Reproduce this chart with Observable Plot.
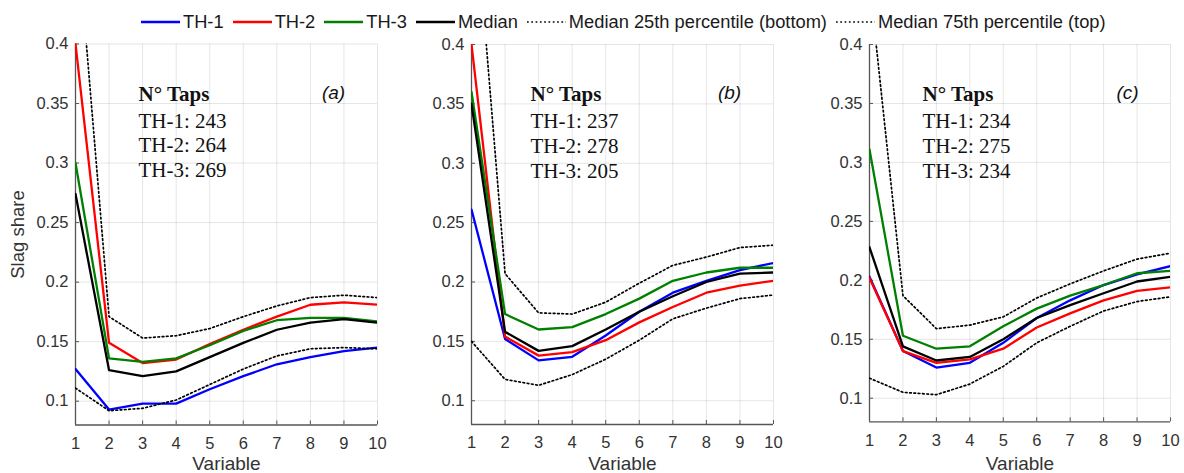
<!DOCTYPE html>
<html>
<head>
<meta charset="utf-8">
<script src="https://cdn.jsdelivr.net/npm/d3@7"></script>
<script src="https://cdn.jsdelivr.net/npm/@observablehq/plot@0.6"></script>
<style>
  html, body { margin: 0; padding: 0; background: #fff; }
  #wrap { position: relative; width: 1184px; height: 473px; overflow: hidden; font-family: "Liberation Sans", Arial, sans-serif; }
  .panel { position: absolute; top: 0; }
  #legend { position: absolute; left: 141px; top: 11px; display: flex; align-items: center; font-size: 18.3px; color: #1a1a1a; white-space: nowrap; }
  .item { display: flex; align-items: center; margin-right: 9px; }
  .item svg { margin-right: 3px; }
</style>
</head>
<body>
<div id="wrap">
  <div id="legend"></div>
</div>
<script>
// ---- data ----
const variables = [1, 2, 3, 4, 5, 6, 7, 8, 9, 10];
const xTicks = [1, 2, 3, 4, 5, 6, 7, 8, 9, 10];
const yTicks = [0.1, 0.15, 0.2, 0.25, 0.3, 0.35, 0.4];
const panelLabels = ["(a)", "(b)", "(c)"];
const seriesNames = ["TH-1", "TH-2", "TH-3", "Median", "Median 25th percentile (bottom)", "Median 75th percentile (top)"];

// panel (a)
const th1A = [0.127, 0.093, 0.098, 0.098, 0.110, 0.121, 0.131, 0.137, 0.142, 0.145];
const th2A = [0.400, 0.149, 0.132, 0.135, 0.148, 0.160, 0.171, 0.181, 0.183, 0.181];
const th3A = [0.300, 0.136, 0.133, 0.136, 0.147, 0.159, 0.168, 0.170, 0.170, 0.167];
const medA = [0.274, 0.126, 0.121, 0.125, 0.137, 0.149, 0.160, 0.166, 0.169, 0.166];
const p25A = [0.111, 0.092, 0.094, 0.101, 0.114, 0.127, 0.138, 0.144, 0.145, 0.144];
const p75A = [0.510, 0.171, 0.153, 0.155, 0.161, 0.171, 0.180, 0.187, 0.189, 0.187];

// panel (b)
const th1B = [0.261, 0.152, 0.134, 0.137, 0.155, 0.175, 0.191, 0.201, 0.210, 0.216];
const th2B = [0.400, 0.154, 0.138, 0.141, 0.151, 0.166, 0.179, 0.191, 0.197, 0.201];
const th3B = [0.360, 0.173, 0.160, 0.162, 0.173, 0.186, 0.201, 0.208, 0.212, 0.212];
const medB = [0.350, 0.158, 0.142, 0.146, 0.160, 0.175, 0.188, 0.200, 0.207, 0.208];
const p25B = [0.150, 0.118, 0.113, 0.122, 0.135, 0.151, 0.169, 0.178, 0.186, 0.189];
const p75B = [0.552, 0.207, 0.174, 0.173, 0.183, 0.199, 0.214, 0.221, 0.229, 0.231];

// panel (c)
const th1C = [0.203, 0.140, 0.126, 0.130, 0.147, 0.168, 0.183, 0.196, 0.205, 0.212];
const th2C = [0.202, 0.140, 0.130, 0.133, 0.142, 0.160, 0.172, 0.183, 0.191, 0.194];
const th3C = [0.311, 0.153, 0.142, 0.144, 0.161, 0.176, 0.187, 0.196, 0.206, 0.208];
const medC = [0.228, 0.144, 0.132, 0.135, 0.150, 0.168, 0.179, 0.189, 0.199, 0.203];
const p25C = [0.117, 0.105, 0.103, 0.112, 0.127, 0.147, 0.161, 0.174, 0.182, 0.186];
const p75C = [0.453, 0.187, 0.159, 0.162, 0.169, 0.185, 0.197, 0.208, 0.218, 0.223];

// number of taps
const tapsTH1 = [243, 237, 234];
const tapsTH2 = [264, 278, 275];
const tapsTH3 = [269, 205, 234];

const panelData = [
  [th1A, th2A, th3A, medA, p25A, p75A],
  [th1B, th2B, th3B, medB, p25B, p75B],
  [th1C, th2C, th3C, medC, p25C, p75C]
];

// ---- styles ----
const seriesStyle = [
  {color: "#0000ff", width: 2.3, dash: null},
  {color: "#ff0000", width: 2.3, dash: null},
  {color: "#008000", width: 2.3, dash: null},
  {color: "#000000", width: 2.3, dash: null},
  {color: "#000000", width: 1.7, dash: "1.7,2.6"},
  {color: "#000000", width: 1.7, dash: "1.7,2.6"}
];

const layout = [
  {left: 0,   width: 395, ml: 75, mr: 18, mt: 43.5, mb: 48.5, tapsDx: 63, ylabel: true},
  {left: 395, width: 395, ml: 76, mr: 17, mt: 44,   mb: 49,   tapsDx: 59, ylabel: false},
  {left: 790, width: 394, ml: 79, mr: 14, mt: 44,   mb: 51.7, tapsDx: 53, ylabel: false}
];

const sans = "'Liberation Sans', Arial, sans-serif";
const serif = "'Liberation Serif', 'Times New Roman', serif";
const H = 473;

const wrap = document.getElementById("wrap");

panelData.forEach((series, p) => {
  const L = layout[p];
  const frameBottom = H - L.mb;
  const marks = [
    Plot.gridX(xTicks, {stroke: "#000", strokeOpacity: 0.1, strokeWidth: 1}),
    Plot.gridY(yTicks, {stroke: "#000", strokeOpacity: 0.1, strokeWidth: 1}),
    Plot.axisX(xTicks, {anchor: "bottom", tickSize: -4, tickPadding: 16, label: null, fontSize: 16.5, stroke: "#555", fill: "#333", tickFormat: d => String(d)}),
    Plot.axisY(yTicks, {anchor: "left", tickSize: -4, tickPadding: 11, label: null, fontSize: 16.5, stroke: "#555", fill: "#333", tickFormat: d => String(d)}),
    Plot.ruleX([1], {stroke: "#555", strokeWidth: 1.3}),
    Plot.ruleY([0.08], {stroke: "#555", strokeWidth: 1.3})
  ];
  series.forEach((vals, s) => {
    const st = seriesStyle[s];
    const rows = variables.map((x, j) => ({x, y: vals[j]}));
    marks.push(Plot.line(rows, {
      x: "x", y: "y", stroke: st.color, strokeWidth: st.width,
      strokeDasharray: st.dash, clip: true, curve: "linear"
    }));
  });
  // annotations
  marks.push(Plot.text(["N\u00B0 Taps"], {
    frameAnchor: "top-left", dx: L.tapsDx, dy: 56.5, lineAnchor: "bottom", textAnchor: "start",
    fontFamily: serif, fontWeight: "bold", fontSize: 21, fill: "#111"
  }));
  marks.push(Plot.text([`TH-1: ${tapsTH1[p]}\nTH-2: ${tapsTH2[p]}\nTH-3: ${tapsTH3[p]}`], {
    frameAnchor: "top-left", dx: L.tapsDx, dy: 81 - 0.71 * 21, lineAnchor: "top", textAnchor: "start",
    lineHeight: 1.18, fontFamily: serif, fontSize: 21, fill: "#111"
  }));
  marks.push(Plot.text([panelLabels[p]], {
    frameAnchor: "top-left", dx: 258, dy: 54.5, lineAnchor: "bottom", textAnchor: "middle",
    fontFamily: sans, fontStyle: "italic", fontSize: 19, fill: "#111"
  }));
  marks.push(Plot.text(["Variable"], {
    frameAnchor: "bottom", dy: 469.5 - frameBottom, lineAnchor: "bottom", textAnchor: "middle",
    fontFamily: sans, fontSize: 19, fill: "#333"
  }));
  if (L.ylabel) {
    marks.push(Plot.text(["Slag share"], {
      frameAnchor: "left", dx: -57, rotate: -90, textAnchor: "middle", lineAnchor: "middle",
      fontFamily: sans, fontSize: 18.5, fill: "#333"
    }));
  }
  const chart = Plot.plot({
    width: L.width, height: H,
    marginLeft: L.ml, marginRight: L.mr, marginTop: L.mt, marginBottom: L.mb,
    x: {type: "linear", domain: [1, 10]},
    y: {type: "linear", domain: [0.08, 0.4]},
    style: {fontFamily: sans, fontSize: "16.5px", color: "#333", background: "transparent", overflow: "visible"},
    marks
  });
  const div = document.createElement("div");
  div.className = "panel";
  div.style.left = L.left + "px";
  div.appendChild(chart);
  wrap.appendChild(div);
});

// legend
const legend = document.getElementById("legend");
seriesNames.forEach((name, i) => {
  const st = seriesStyle[i];
  const item = document.createElement("div");
  item.className = "item";
  const dash = st.dash ? `stroke-dasharray="${st.dash}"` : "";
  item.innerHTML = `<svg width="39" height="10"><line x1="0" x2="39" y1="5" y2="5" stroke="${st.color}" stroke-width="${st.dash ? 1.6 : 2.6}" ${dash}></line></svg><span>${name}</span>`;
  legend.appendChild(item);
});
</script>
</body>
</html>
